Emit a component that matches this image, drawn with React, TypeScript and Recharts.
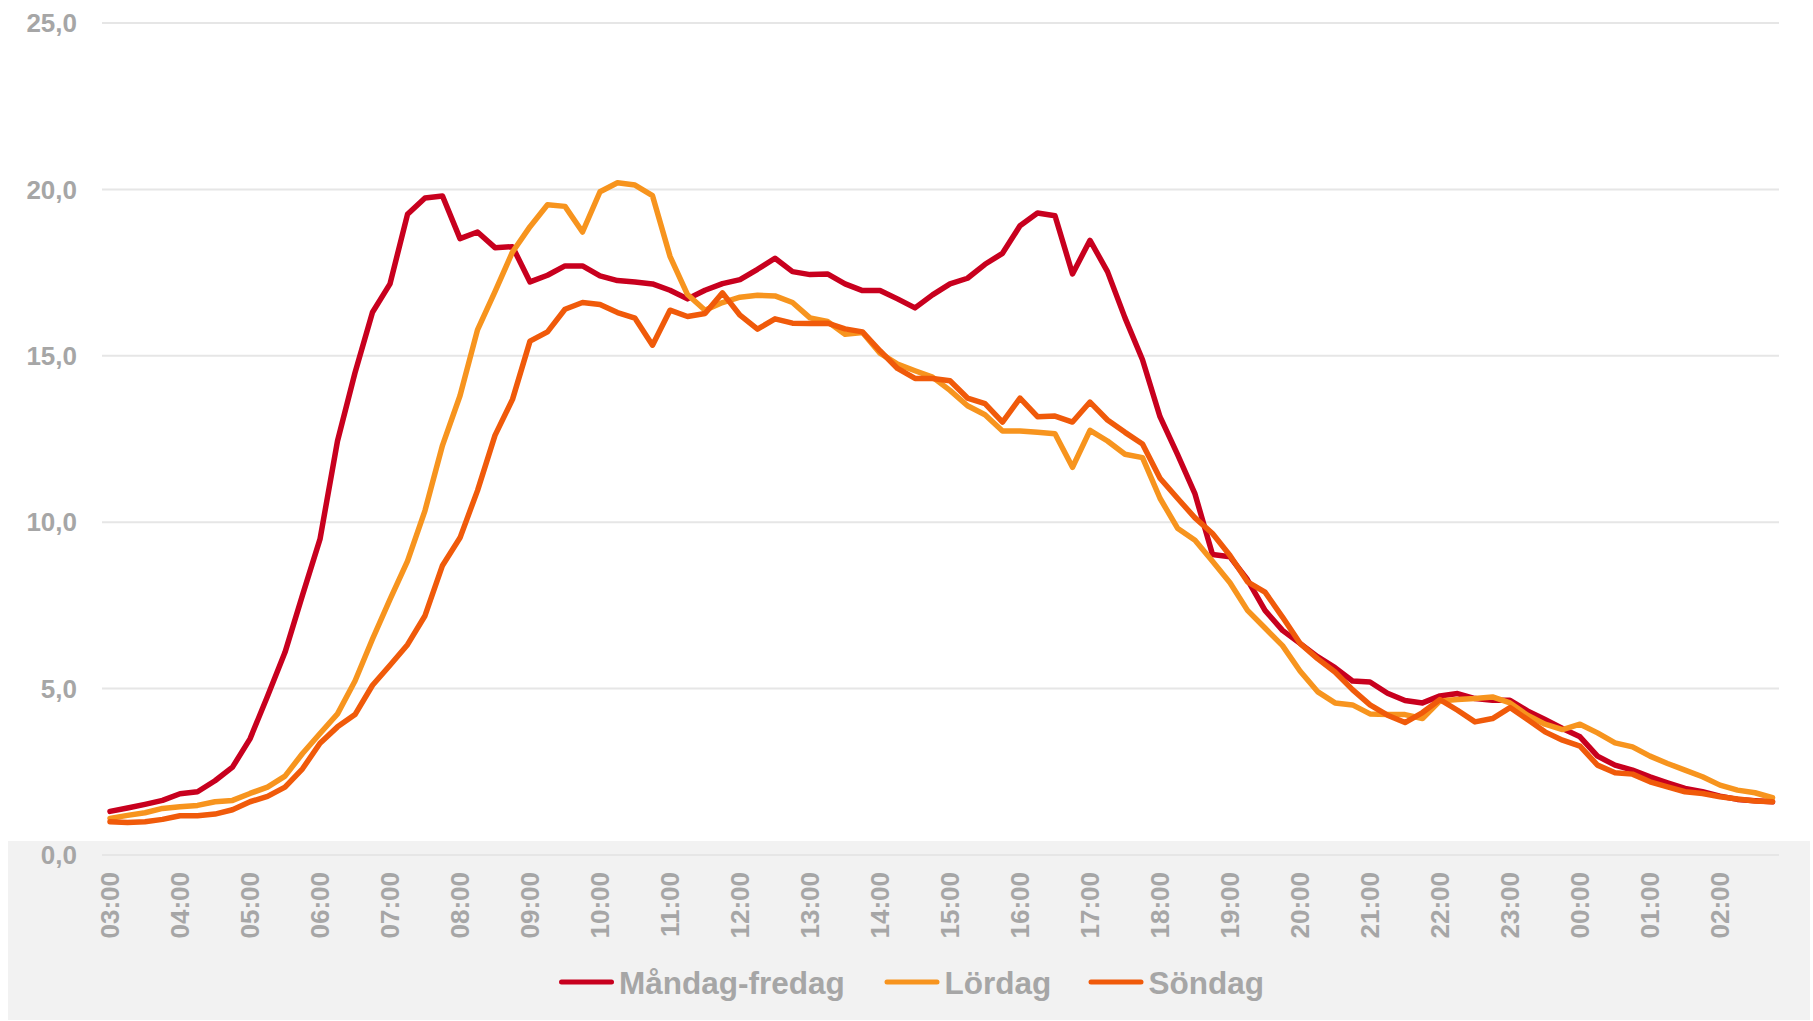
import React from 'react';
import { LineChart, Line, XAxis, YAxis, CartesianGrid, Legend } from 'recharts';

const times = [
  '03:00','03:15','03:30','03:45','04:00','04:15','04:30','04:45',
  '05:00','05:15','05:30','05:45','06:00','06:15','06:30','06:45',
  '07:00','07:15','07:30','07:45','08:00','08:15','08:30','08:45',
  '09:00','09:15','09:30','09:45','10:00','10:15','10:30','10:45',
  '11:00','11:15','11:30','11:45','12:00','12:15','12:30','12:45',
  '13:00','13:15','13:30','13:45','14:00','14:15','14:30','14:45',
  '15:00','15:15','15:30','15:45','16:00','16:15','16:30','16:45',
  '17:00','17:15','17:30','17:45','18:00','18:15','18:30','18:45',
  '19:00','19:15','19:30','19:45','20:00','20:15','20:30','20:45',
  '21:00','21:15','21:30','21:45','22:00','22:15','22:30','22:45',
  '23:00','23:15','23:30','23:45','00:00','00:15','00:30','00:45',
  '01:00','01:15','01:30','01:45','02:00','02:15','02:30','02:45',
];

const mandagFredag = [
  1.31, 1.41, 1.52, 1.64, 1.84, 1.90, 2.23, 2.64,
  3.49, 4.77, 6.09, 7.81, 9.49, 12.44, 14.49, 16.31,
  17.16, 19.25, 19.74, 19.80, 18.52, 18.72, 18.25, 18.28,
  17.22, 17.42, 17.70, 17.70, 17.40, 17.26, 17.22, 17.16,
  16.97, 16.71, 16.97, 17.17, 17.29, 17.60, 17.93, 17.53,
  17.44, 17.46, 17.16, 16.96, 16.96, 16.71, 16.44, 16.83,
  17.16, 17.33, 17.75, 18.08, 18.91, 19.29, 19.21, 17.46,
  18.47, 17.53, 16.14, 14.88, 13.17, 12.04, 10.85, 9.03,
  8.96, 8.27, 7.35, 6.75, 6.36, 5.96, 5.63, 5.23,
  5.20, 4.86, 4.64, 4.57, 4.78, 4.85, 4.70, 4.65,
  4.65, 4.33, 4.07, 3.80, 3.55, 2.97, 2.70, 2.55,
  2.35, 2.17, 2.00, 1.90, 1.77, 1.67, 1.63, 1.60,
];

const lordag = [
  1.10, 1.19, 1.27, 1.40, 1.45, 1.49, 1.60, 1.64,
  1.85, 2.04, 2.37, 3.05, 3.65, 4.24, 5.23, 6.49,
  7.68, 8.83, 10.35, 12.31, 13.80, 15.78, 16.93, 18.12,
  18.88, 19.54, 19.49, 18.72, 19.93, 20.20, 20.13, 19.81,
  17.99, 16.84, 16.37, 16.60, 16.76, 16.82, 16.80, 16.60,
  16.14, 16.03, 15.65, 15.70, 15.08, 14.75, 14.55, 14.36,
  13.96, 13.50, 13.23, 12.74, 12.74, 12.70, 12.66, 11.65,
  12.76, 12.44, 12.04, 11.94, 10.72, 9.82, 9.46, 8.83,
  8.18, 7.35, 6.82, 6.29, 5.53, 4.91, 4.57, 4.51,
  4.24, 4.22, 4.22, 4.10, 4.63, 4.67, 4.70, 4.75,
  4.57, 4.20, 3.93, 3.77, 3.93, 3.67, 3.37, 3.25,
  2.97, 2.75, 2.55, 2.35, 2.10, 1.95, 1.87, 1.72,
];

const sondag = [
  1.00, 0.98, 1.00, 1.07, 1.18, 1.18, 1.23, 1.36,
  1.60, 1.76, 2.04, 2.59, 3.36, 3.85, 4.22, 5.10,
  5.70, 6.32, 7.19, 8.70, 9.53, 10.95, 12.61, 13.69,
  15.44, 15.72, 16.40, 16.60, 16.54, 16.30, 16.13, 15.32,
  16.37, 16.18, 16.27, 16.89, 16.22, 15.80, 16.11, 15.98,
  15.97, 15.98, 15.81, 15.72, 15.15, 14.62, 14.32, 14.32,
  14.25, 13.73, 13.56, 13.01, 13.73, 13.17, 13.19, 13.01,
  13.61, 13.07, 12.70, 12.35, 11.32, 10.72, 10.13, 9.66,
  9.00, 8.21, 7.90, 7.15, 6.36, 5.90, 5.50, 4.97,
  4.51, 4.20, 3.98, 4.28, 4.67, 4.35, 4.00, 4.10,
  4.43, 4.07, 3.70, 3.45, 3.27, 2.70, 2.47, 2.43,
  2.20, 2.05, 1.90, 1.85, 1.75, 1.68, 1.62, 1.60,
];

const yTicks = [0, 5, 10, 15, 20, 25];

const seriesNames = ['Måndag-fredag', 'Lördag', 'Söndag'];
const seriesColors = ['#C8001E', '#F7941E', '#F05A0A'];

const data = times.map((t, i) => ({
  time: t,
  [seriesNames[0]]: mandagFredag[i],
  [seriesNames[1]]: lordag[i],
  [seriesNames[2]]: sondag[i],
}));

const FONT = "'Liberation Sans', Arial, sans-serif";
const TEXT_GRAY = '#A6A6A6';

const XTick = (props: any) => {
  const { x, y, payload } = props;
  return (
    <g transform={`translate(${x},${y + 17})`}>
      <text
        transform="rotate(-90)"
        textAnchor="end"
        dy="0.36em"
        fill={TEXT_GRAY}
        fontSize={26}
        fontWeight="bold"
        fontFamily={FONT}
      >
        {payload.value}
      </text>
    </g>
  );
};

const legendTextWidths: Record<string, number> = {
  'Måndag-fredag': 227.5,
  'Lördag': 106,
  'Söndag': 116,
};

const renderLegend = (props: any) => {
  const payload: any[] = props.payload || [];
  const ordered = seriesNames
    .map((n) => payload.find((p) => p.value === n))
    .filter(Boolean);
  let x = 559;
  const items = ordered.map((entry: any) => {
    const sx = x;
    const w = legendTextWidths[entry.value] || 100;
    x = sx + 55 + 5 + w + 38;
    return (
      <g key={entry.value}>
        <line x1={sx + 2.5} x2={sx + 52.5} y1={42} y2={42} stroke={entry.color} strokeWidth={5} strokeLinecap="round" />
        <text
          x={sx + 60}
          y={53.5}
          fill={TEXT_GRAY}
          fontSize={31.5}
          fontWeight="bold"
          fontFamily={FONT}
        >
          {entry.value}
        </text>
      </g>
    );
  });
  return (
    <svg width={1813} height={80} style={{ display: 'block' }}>
      {items}
    </svg>
  );
};

export default function App() {
  return (
    <div style={{ position: 'absolute', left: 0, top: 0, width: 1813, height: 1021, background: '#ffffff', overflow: 'hidden' }}>
      <div style={{ position: 'absolute', left: 8, top: 841, width: 1802, height: 179, background: '#F2F2F2' }} />
      <LineChart
        width={1813}
        height={1021}
        data={data}
        margin={{ top: 23, right: 34, left: 0, bottom: 0 }}
        style={{ fontFamily: FONT }}
      >
        <CartesianGrid horizontal={true} vertical={false} stroke="#E6E6E6" strokeWidth={2} />
        <XAxis
          dataKey="time"
          interval={3}
          height={166}
          tickLine={false}
          axisLine={false}
          tickSize={0}
          tickMargin={0}
          padding={{ left: 8, right: 6.5 }}
          tick={<XTick />}
        />
        <YAxis
          width={102}
          domain={[0, 25]}
          ticks={yTicks}
          tickLine={false}
          axisLine={false}
          tickSize={0}
          tickMargin={25}
          tickFormatter={(v: number) => v.toFixed(1).replace('.', ',')}
          tick={{ fill: TEXT_GRAY, fontSize: 26, fontWeight: 'bold', fontFamily: FONT }}
        />
        <Legend
          layout="horizontal"
          verticalAlign="middle"
          align="center"
          content={renderLegend}
          wrapperStyle={{ top: 940, left: 0, width: 1813, height: 80 }}
        />
        {seriesNames.map((name, i) => (
          <Line
            key={name}
            type="linear"
            dataKey={name}
            stroke={seriesColors[i]}
            strokeWidth={5.5}
            strokeLinejoin="round"
            strokeLinecap="round"
            dot={false}
            activeDot={false}
            isAnimationActive={false}
          />
        ))}
      </LineChart>
    </div>
  );
}
